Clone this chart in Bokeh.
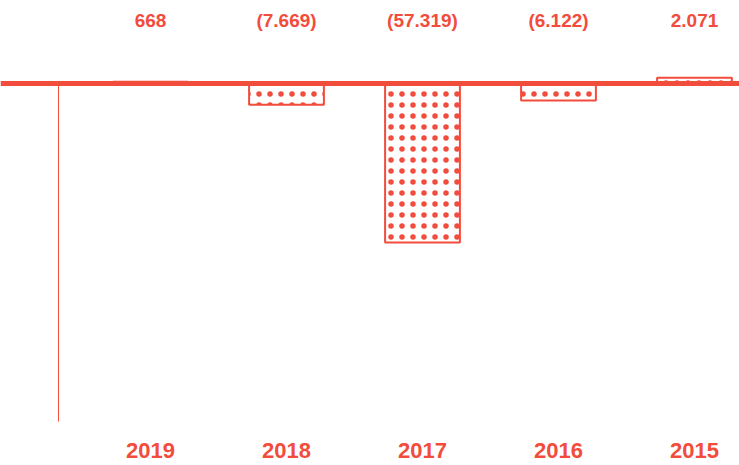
from bokeh.plotting import figure
from bokeh.models import Range1d, Span, ColumnDataSource
from bokeh.core.properties import value
from bokeh.embed import file_html
from bokeh.resources import INLINE

years = ["2019", "2018", "2017", "2016", "2015"]
values = [668, -7669, -57319, -6122, 2071]
value_labels = ["668", "(7.669)", "(57.319)", "(6.122)", "2.071"]

RED = "#f24c3c"
W, H = 739, 465
BASE_PX = 83          # baseline position from top of the frame
K = 159 / 57319       # pixels per unit
CAT_PX = 136          # pixels per category
X0 = -150 / CAT_PX    # left of range in category units


def ypx(px):
    return (BASE_PX - px) / K


def xpx(px):
    return X0 + px / CAT_PX


xs = list(range(len(years)))

p = figure(width=W, height=H, output_backend="svg", toolbar_location=None,
           x_range=Range1d(X0, X0 + W / CAT_PX),
           y_range=Range1d(ypx(H), ypx(0)),
           x_axis_location=None, y_axis_location=None,
           min_border=0, outline_line_color=None)
p.grid.visible = False

src = ColumnDataSource(dict(x=xs, top=values, year=years, lab=value_labels,
                            ylab=[ypx(20)] * len(xs), yyear=[ypx(450)] * len(xs)))

p.vbar(x="x", top="top", bottom=0, width=0.55, source=src,
       fill_color="white", line_color=RED, line_width=2,
       hatch_pattern="dot", hatch_color=RED, hatch_scale=11, hatch_weight=3)

p.add_layout(Span(location=0, dimension="width", line_color=RED, line_width=5))
p.segment(x0=[xpx(58)], y0=[0], x1=[xpx(58)], y1=[ypx(421)],
          line_color=RED, line_width=1)

p.text(x="x", y="ylab", text="lab", source=src, text_color=RED,
       text_font=value("Liberation Sans"), text_font_style="bold",
       text_font_size="19px", text_align="center", text_baseline="middle")
p.text(x="x", y="yyear", text="year", source=src, text_color=RED,
       text_font=value("Liberation Sans"), text_font_style="bold",
       text_font_size="22px", text_align="center", text_baseline="middle")

open("out.html", "w").write(file_html(p, INLINE))
